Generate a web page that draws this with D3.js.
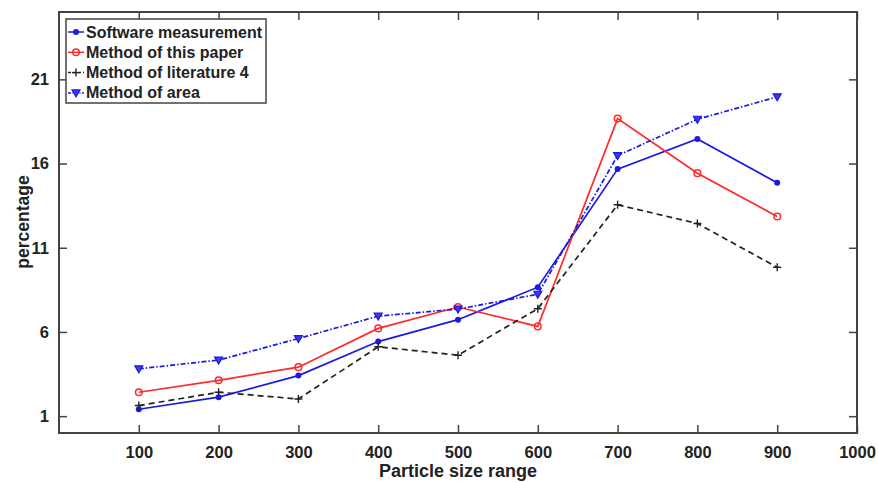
<!DOCTYPE html>
<html><head><meta charset="utf-8">
<script src="https://cdn.jsdelivr.net/npm/d3@7"></script>
<style>body{margin:0;background:#fff}svg{display:block}text{font-family:Arial,"Liberation Sans",sans-serif;font-weight:bold;fill:#222}</style>
</head><body><svg id="c" width="878" height="483"></svg>
<script>
const categories = [100,200,300,400,500,600,700,800,900];
const software = [1.41,2.13,3.41,5.43,6.73,8.66,15.67,17.46,14.86];
const thisPaper = [2.42,3.13,3.91,6.21,7.48,6.33,18.67,15.43,12.86];
const literature4 = [1.63,2.42,2.02,5.12,4.62,7.38,13.55,12.44,9.84];
const area = [3.81,4.33,5.61,6.94,7.36,8.24,16.47,18.63,19.96];
const xTicks = [100,200,300,400,500,600,700,800,900,1000];
const yTicks = [1,6,11,16,21];
const seriesNames = ["Software measurement","Method of this paper","Method of literature 4","Method of area"];

const svg = d3.select("#c");
const L=59,R=857,T=12,B=433;
const x = d3.scaleLinear().domain([0,1000]).range([L,R]);
const y = d3.scaleLinear().domain([0,25]).range([B,T]);
const axisColor="#444";

const series = [
 {name:seriesNames[0], data:software, color:"#1a1ae0", dash:null, marker:"dot"},
 {name:seriesNames[1], data:thisPaper, color:"#ff2a2a", dash:null, marker:"circle"},
 {name:seriesNames[2], data:literature4, color:"#222", dash:"6,4", marker:"plus"},
 {name:seriesNames[3], data:area, color:"#1a1ae0", dash:"5,2,1.5,2", marker:"tri"}
];

function drawMarker(g, m, cx, cy, color){
  if(m==="dot") g.append("circle").attr("cx",cx).attr("cy",cy).attr("r",3).attr("fill",color);
  else if(m==="circle") g.append("circle").attr("cx",cx).attr("cy",cy).attr("r",3.3).attr("fill","none").attr("stroke",color).attr("stroke-width",1.5);
  else if(m==="plus") g.append("path").attr("d",`M${cx-4},${cy}H${cx+4}M${cx},${cy-4}V${cy+4}`).attr("stroke",color).attr("stroke-width",1.4);
  else if(m==="tri") g.append("path").attr("d",`M${cx-4},${cy-3}L${cx+4},${cy-3}L${cx},${cy+4}Z`).attr("fill","#3a3af0").attr("stroke",color).attr("stroke-width",1.2);
}

const line = d3.line().x((d,i)=>x(categories[i])).y(d=>y(d));
series.forEach(s=>{
  const g=svg.append("g");
  g.append("path").attr("d",line(s.data)).attr("fill","none").attr("stroke",s.color).attr("stroke-width",1.7).attr("stroke-dasharray",s.dash);
  s.data.forEach((d,i)=>drawMarker(g,s.marker,x(categories[i]),y(d),s.color));
});

// axes
const tl=8;
const gx=svg.append("g").attr("transform",`translate(0,${B})`).call(d3.axisBottom(x).tickValues(xTicks).tickSize(-tl).tickPadding(13).tickFormat(d3.format("d")));
const gxt=svg.append("g").attr("transform",`translate(0,${T})`).call(d3.axisTop(x).tickValues(xTicks).tickSize(-tl).tickFormat(""));
const gy=svg.append("g").attr("transform",`translate(${L},0)`).call(d3.axisLeft(y).tickValues(yTicks).tickSize(-tl).tickPadding(10).tickFormat(d3.format("d")));
const gyr=svg.append("g").attr("transform",`translate(${R},0)`).call(d3.axisRight(y).tickValues(yTicks).tickSize(-tl).tickFormat(""));
[gx,gxt,gy,gyr].forEach(g=>{
  g.select(".domain").remove();
  g.selectAll(".tick line").attr("stroke",axisColor).attr("stroke-width",1.5);
  g.selectAll(".tick text").style("font-size","16.5px").style("font-family","Arial, 'Liberation Sans', sans-serif").style("font-weight","bold").attr("fill","#222");
});
svg.append("rect").attr("x",L).attr("y",T).attr("width",R-L).attr("height",B-T).attr("fill","none").attr("stroke",axisColor).attr("stroke-width",2);

svg.append("text").attr("x",(L+R)/2).attr("y",477).attr("text-anchor","middle").style("font-size","18px").text("Particle size range");
svg.append("text").attr("transform",`translate(29,222) rotate(-90)`).attr("text-anchor","middle").style("font-size","17.5px").text("percentage");

// legend
const lg=svg.append("g");
lg.append("rect").attr("x",66).attr("y",19).attr("width",200).attr("height",84).attr("fill","#fff").attr("stroke",axisColor).attr("stroke-width",1.5);
series.forEach((s,i)=>{
  const yy=32+i*20.3;
  lg.append("path").attr("d",`M68,${yy}H84`).attr("stroke",s.color).attr("stroke-width",1.5).attr("stroke-dasharray",s.dash?(s.marker==="plus"?"3,2":"3,1.5,1,1.5"):null);
  drawMarker(lg,s.marker,76,yy,s.color);
  lg.append("text").attr("x",86).attr("y",yy+5.5).style("font-size","16px").text(s.name);
});
</script></body></html>
